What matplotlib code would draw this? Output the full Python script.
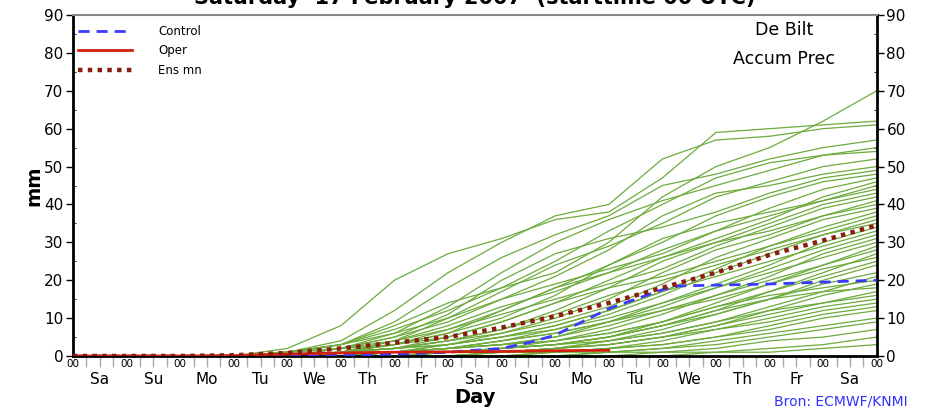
import matplotlib
matplotlib.use("Agg")
import matplotlib.pyplot as plt
import matplotlib.transforms as mtransforms
import numpy as np

# Day index 0..15 (00 UTC of each day, start Saturday 17 Feb 2007)
days = list(range(16))
day_names = ["Sa", "Su", "Mo", "Tu", "We", "Th", "Fr", "Sa",
             "Su", "Mo", "Tu", "We", "Th", "Fr", "Sa"]

# Accumulated precipitation (mm) of the 50 ensemble members, at 00 UTC of each day
members = [
    [0, 0, 0, 0, 1, 3, 8, 14, 18, 22, 30, 42, 50, 55, 62, 70],
    [0, 0, 0, 0, 2, 8, 20, 27, 31, 36, 38, 47, 59, 60, 61, 62],
    [0, 0, 0, 0, 1, 4, 12, 22, 30, 37, 40, 52, 57, 58, 60, 61],
    [0, 0, 0, 0, 1, 3, 9, 18, 26, 32, 37, 45, 48, 52, 55, 57],
    [0, 0, 0, 0, 0, 2, 6, 13, 22, 30, 36, 41, 45, 49, 53, 55],
    [0, 0, 0, 0, 1, 3, 7, 12, 18, 25, 33, 40, 47, 51, 53, 54],
    [0, 0, 0, 0, 0, 1, 4, 10, 17, 24, 29, 35, 42, 46, 50, 52],
    [0, 0, 0, 0, 1, 2, 5, 9, 15, 21, 28, 37, 43, 45, 48, 50],
    [0, 0, 0, 0, 0, 2, 5, 11, 20, 27, 31, 34, 38, 43, 47, 49],
    [0, 0, 0, 0, 0, 1, 3, 6, 12, 18, 24, 30, 37, 42, 46, 48],
    [0, 0, 0, 0, 1, 3, 6, 10, 15, 19, 23, 27, 33, 39, 44, 47],
    [0, 0, 0, 0, 0, 1, 2, 5, 9, 14, 20, 26, 31, 36, 42, 46],
    [0, 0, 0, 0, 0, 1, 4, 8, 13, 17, 22, 28, 33, 37, 41, 45],
    [0, 0, 0, 0, 1, 2, 3, 6, 10, 16, 24, 31, 35, 38, 41, 44],
    [0, 0, 0, 0, 0, 1, 2, 4, 7, 12, 18, 25, 30, 35, 40, 43],
    [0, 0, 0, 0, 0, 1, 3, 7, 11, 15, 19, 23, 29, 34, 39, 42],
    [0, 0, 0, 0, 0, 0, 1, 3, 6, 10, 15, 22, 28, 32, 37, 41],
    [0, 0, 0, 0, 1, 2, 4, 7, 12, 18, 22, 26, 30, 33, 37, 40],
    [0, 0, 0, 0, 0, 1, 2, 4, 6, 9, 13, 19, 26, 31, 36, 39],
    [0, 0, 0, 0, 0, 0, 1, 3, 5, 8, 12, 17, 23, 29, 34, 38],
    [0, 0, 0, 0, 0, 1, 3, 5, 9, 14, 18, 21, 25, 29, 33, 37],
    [0, 0, 0, 0, 0, 0, 1, 2, 4, 7, 11, 16, 22, 27, 32, 36],
    [0, 0, 0, 0, 0, 1, 2, 4, 7, 11, 16, 20, 24, 28, 32, 35],
    [0, 0, 0, 0, 0, 0, 1, 2, 3, 5, 9, 14, 19, 24, 30, 34],
    [0, 0, 0, 0, 0, 1, 2, 3, 5, 8, 12, 17, 21, 25, 29, 33],
    [0, 0, 0, 0, 0, 0, 1, 2, 4, 6, 9, 13, 18, 23, 28, 32],
    [0, 0, 0, 0, 0, 0, 0, 1, 2, 4, 7, 11, 16, 21, 27, 31],
    [0, 0, 0, 0, 0, 1, 2, 3, 5, 7, 10, 14, 18, 22, 26, 30],
    [0, 0, 0, 0, 0, 0, 1, 1, 2, 3, 5, 9, 14, 19, 24, 29],
    [0, 0, 0, 0, 0, 0, 1, 2, 3, 5, 8, 12, 16, 20, 24, 28],
    [0, 0, 0, 0, 0, 0, 0, 1, 2, 3, 5, 8, 12, 17, 22, 27],
    [0, 0, 0, 0, 0, 1, 1, 2, 4, 6, 9, 12, 15, 19, 23, 26],
    [0, 0, 0, 0, 0, 0, 1, 2, 3, 4, 6, 9, 13, 17, 21, 25],
    [0, 0, 0, 0, 0, 0, 0, 1, 1, 2, 4, 7, 11, 15, 20, 24],
    [0, 0, 0, 0, 0, 0, 1, 1, 2, 3, 5, 8, 11, 15, 19, 22],
    [0, 0, 0, 0, 0, 0, 0, 1, 2, 3, 4, 6, 9, 13, 17, 21],
    [0, 0, 0, 0, 0, 0, 1, 2, 3, 4, 6, 9, 13, 16, 18, 20],
    [0, 0, 0, 0, 0, 0, 0, 1, 1, 2, 3, 5, 8, 12, 16, 19],
    [0, 0, 0, 0, 0, 0, 1, 1, 2, 3, 5, 8, 12, 15, 17, 18],
    [0, 0, 0, 0, 0, 0, 0, 0, 1, 2, 3, 5, 8, 11, 14, 17],
    [0, 0, 0, 0, 0, 0, 0, 1, 1, 2, 4, 6, 9, 12, 14, 16],
    [0, 0, 0, 0, 0, 0, 0, 0, 1, 1, 2, 4, 7, 10, 13, 15],
    [0, 0, 0, 0, 0, 0, 0, 1, 1, 2, 3, 5, 7, 9, 12, 14],
    [0, 0, 0, 0, 0, 0, 0, 0, 0, 1, 2, 3, 5, 8, 11, 13],
    [0, 0, 0, 0, 0, 0, 0, 0, 1, 1, 2, 3, 5, 7, 10, 12],
    [0, 0, 0, 0, 0, 0, 0, 0, 0, 1, 1, 2, 4, 6, 8, 10],
    [0, 0, 0, 0, 0, 0, 0, 0, 0, 0, 1, 2, 3, 5, 7, 9],
    [0, 0, 0, 0, 0, 0, 0, 0, 0, 0, 1, 1, 2, 4, 5, 7],
    [0, 0, 0, 0, 0, 0, 0, 0, 0, 0, 0, 1, 1, 2, 3, 5],
    [0, 0, 0, 0, 0, 0, 0, 0, 0, 0, 0, 0, 1, 1, 2, 3],
]

control_t = [0, 1, 2, 3, 4, 5, 6, 7, 7.5, 8, 8.5, 9, 9.5, 10, 10.5, 11, 11.3, 12, 13, 14, 15]
control = [0, 0, 0, 0, 0, 0.2, 0.5, 1, 1.5, 2, 3.5, 5.5, 9, 12.5, 15, 17.5, 18.5, 18.7, 19, 19.5, 20]

oper_t = [0, 1, 2, 3, 4, 5, 6, 7, 8, 9, 10]
oper = [0, 0, 0, 0.1, 0.5, 0.8, 1.0, 1.1, 1.2, 1.4, 1.5]

ensmean = [0, 0, 0, 0.2, 0.8, 2, 3.5, 5, 7.5, 10.5, 14, 18, 22, 26.7, 30.5, 34.5]

title = "Saturday  17 February 2007  (starttime 00 UTC)"

fig = plt.figure(figsize=(9.26, 4.17), dpi=100)
ax = fig.add_axes([0.0788, 0.1463, 0.868, 0.8177])

for m in members:
    ax.plot(days, m, color="#6cab3c", lw=0.9, zorder=2)
ax.plot(control_t, control, color="#3a3aff", lw=2, ls=(0, (4, 2.5)), zorder=3, label="Control")
ax.plot(oper_t, oper, color="#d0200a", lw=2, zorder=4, label="Oper")
ax.plot(days, ensmean, color="#8a1c10", lw=3.2, ls=(0, (1, 1.2)), zorder=5, label="Ens mn")

ax.set_xlim(0, 15)
ax.set_ylim(0, 90)

# y axis (both sides)
ax.set_yticks(range(0, 91, 10))
ax.set_yticks(range(0, 91, 5), minor=True)
ax.tick_params(axis="y", which="major", direction="out", length=5, width=1,
               labelsize=11, left=True, right=True, labelleft=True, labelright=True, pad=2)
ax.tick_params(axis="y", which="minor", direction="in", length=2, width=0.6, left=True, right=True)

# x axis: 00 at day boundaries, ticks every 6 h
ax.set_xticks(days)
ax.set_xticklabels(["00"] * len(days))
ax.set_xticks(np.arange(0, 15.01, 0.25), minor=True)
ax.tick_params(axis="x", which="major", direction="out", length=0, labelsize=7.5, pad=2)
ax.tick_params(axis="x", which="minor", direction="out", length=8, width=1, color="#aaaaaa")

trans = mtransforms.blended_transform_factory(ax.transData, ax.transAxes)
for i, name in enumerate(day_names):
    ax.text(i + 0.5, -0.07, name, transform=trans, ha="center", va="center", fontsize=11)

for side in ["left", "right", "bottom"]:
    ax.spines[side].set_linewidth(2)
ax.spines["top"].set_color("#888888")
ax.spines["top"].set_linestyle((0, (4, 1)))
ax.spines["top"].set_linewidth(1.5)

ax.set_ylabel("mm", fontsize=14, fontweight="bold", labelpad=0)
ax.set_xlabel("Day", fontsize=14, fontweight="bold", labelpad=12)

leg = ax.legend(loc="upper left", bbox_to_anchor=(0.0, 0.985), frameon=False,
                fontsize=8.5, handlelength=4.6, handletextpad=2.2,
                labelspacing=0.55, borderaxespad=0)

ax.text(0.885, 0.955, "De Bilt", transform=ax.transAxes, ha="center", va="center", fontsize=12.5)
ax.text(0.885, 0.87, "Accum Prec", transform=ax.transAxes, ha="center", va="center", fontsize=12.5)

# title is cut off by the top edge, as in the original image
fig.text(0.513, 1 - 4 / 417, title, ha="center", va="baseline", fontsize=15, fontweight="bold")
fig.text(0.908, 0.036, "Bron: ECMWF/KNMI", ha="center", va="center", fontsize=10,
         color="#3030ff")

fig.savefig("out.png", dpi=100)
